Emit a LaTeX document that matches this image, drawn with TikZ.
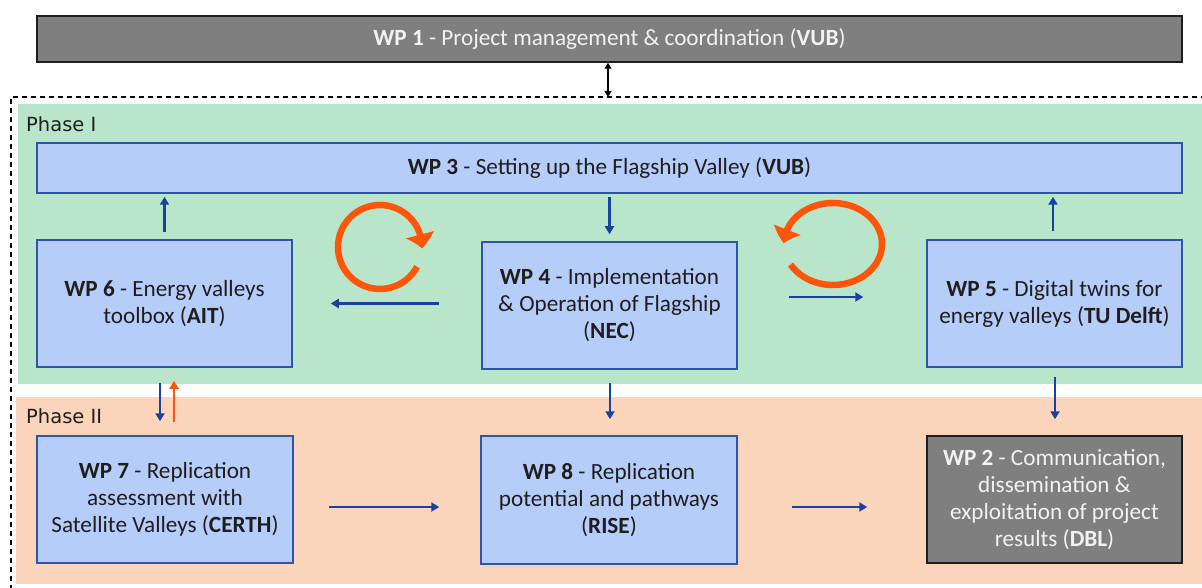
\documentclass[tikz,border=0pt]{standalone}
\usepackage{fontspec}
\setmainfont{Carlito}
\newfontfamily\phasefont{DejaVu Sans}
\usetikzlibrary{arrows.meta,bending}
\definecolor{gbg}{RGB}{185,230,203}
\definecolor{pbg}{RGB}{251,213,187}
\definecolor{boxfill}{RGB}{182,205,250}
\definecolor{boxline}{RGB}{47,85,170}
\definecolor{arrblue}{RGB}{25,65,160}
\definecolor{arrorange}{RGB}{255,85,10}
\definecolor{grayfill}{RGB}{127,127,127}
\definecolor{grayline}{RGB}{30,30,30}
\definecolor{lighttext}{RGB}{242,242,242}
\definecolor{darktext}{RGB}{30,30,30}
\begin{document}
\begin{tikzpicture}[x=1pt,y=-1pt,
  bluebox/.style={draw=boxline,line width=1.5pt,fill=boxfill,align=center,
    text=darktext,inner sep=0pt,font=\fontsize{23.2}{27}\selectfont},
  graybox/.style={draw=grayline,line width=1.5pt,fill=grayfill,align=center,
    text=lighttext,inner sep=0pt,font=\fontsize{23.2}{27}\selectfont},
  wpsize/.style={minimum width=255pt,minimum height=127pt},
  barrow/.style={draw=arrblue,line width=2.2pt,-{Triangle[width=9pt,length=8pt]}},
  oarrow/.style={draw=arrorange,line width=2.2pt,-{Triangle[width=9pt,length=8pt]}},
  looparrow/.style={draw=arrorange,line width=6.5pt,-{Triangle[width=28pt,length=14pt,bend]}},
  phaselabel/.style={anchor=base west,inner sep=0pt,text=darktext,
    font=\phasefont\fontsize{19.5}{22}\selectfont}
]
\useasboundingbox (0,0) rectangle (1202,588);
% backgrounds
\fill[gbg] (18,104) rectangle (1202,384);
\fill[pbg] (16,397) rectangle (1202,584);
% dashed frame
\coordinate (dtop) at (608,97);
\draw[black,line width=1.3pt,dash pattern=on 5pt off 4pt] (1215,97) -- (11,97) -- (11,600);
% phase labels
\node[phaselabel] (ph1) at (26,132) {Phase I};
\node[phaselabel] (ph2) at (26,423) {Phase II};
% boxes
\node[graybox,minimum width=1145pt,minimum height=46pt] (wp1) at (609.5,39)
  {\textbf{WP 1} - Project management \& coordination (\textbf{VUB})};
\node[bluebox,minimum width=1145pt,minimum height=50pt] (wp3) at (609.5,168)
  {\textbf{WP 3} - Setting up the Flagship Valley (\textbf{VUB})};
\node[bluebox,wpsize] (wp6) at (164.5,303.5)
  {\textbf{WP 6} - Energy valleys\\toolbox (\textbf{AIT})};
\node[bluebox,wpsize] (wp4) at (609.5,305.5)
  {\textbf{WP 4} - Implementation\\\& Operation of Flagship\\(\textbf{NEC})};
\node[bluebox,wpsize] (wp5) at (1054.5,303.5)
  {\textbf{WP 5} - Digital twins for\\energy valleys (\textbf{TU Delft})};
\node[bluebox,wpsize,minimum width=256pt] (wp7) at (165,499.5)
  {\textbf{WP 7} - Replication\\assessment with\\Satellite Valleys (\textbf{CERTH})};
\node[bluebox,wpsize,minimum width=256pt,minimum height=128pt] (wp8) at (609,500)
  {\textbf{WP 8} - Replication\\potential and pathways\\(\textbf{RISE})};
\node[graybox,wpsize] (wp2) at (1054.5,499.5)
  {\textbf{WP 2} - Communication,\\dissemination \&\\exploitation of project\\results (\textbf{DBL})};
% WP1 <-> frame
\draw[black,line width=1.6pt,{Triangle[width=7pt,length=6pt]}-{Triangle[width=7pt,length=6pt]}]
  ([xshift=-1.5pt]wp1.south) -- (dtop);
% phase I arrows
\draw[barrow] ([yshift=7pt]wp6.north) -- ([yshift=-3pt]wp6.north |- wp3.south);
\draw[barrow] ([yshift=-3pt]wp3.south -| wp4.north) -- ([yshift=7pt]wp4.north);
\draw[barrow] ([xshift=-1.5pt,yshift=8pt]wp5.north) -- ([xshift=-1.5pt,yshift=-3pt]wp5.north |- wp3.south);
\draw[barrow] ([xshift=-42pt,yshift=2pt]wp4.west) -- ([xshift=38pt,yshift=2pt]wp4.west -| wp6.east);
\draw[barrow] ([xshift=51pt,yshift=8.5pt]wp4.east) -- ([xshift=-63pt,yshift=8.5pt]wp4.east -| wp5.west);
% loops
\draw[looparrow] (380,247) ++(28:42) arc[start angle=28,end angle=362,radius=42];
\draw[looparrow] (833,244) ++(150:49 and 41) arc[start angle=150,end angle=-179,x radius=49,y radius=41];
% phase transitions
\draw[barrow] ([xshift=-4.5pt,yshift=-15pt]wp6.south) -- ([xshift=-4.5pt,yshift=14pt]wp6.south |- wp7.north);
\draw[oarrow] ([xshift=9.5pt,yshift=13pt]wp6.south |- wp7.north) -- ([xshift=9.5pt,yshift=-13pt]wp6.south);
\draw[barrow] ([xshift=0.5pt,yshift=-13pt]wp4.south) -- ([xshift=0.5pt,yshift=16pt]wp4.south |- wp8.north);
\draw[barrow] ([xshift=0.5pt,yshift=-9pt]wp5.south) -- ([xshift=0.5pt,yshift=16pt]wp5.south |- wp2.north);
% phase II arrows
\draw[barrow] ([xshift=35pt,yshift=-7.5pt]wp7.east) -- ([xshift=-41pt,yshift=-7.5pt]wp7.east -| wp8.west);
\draw[barrow] ([xshift=54pt,yshift=-7pt]wp8.east) -- ([xshift=-59pt,yshift=-7pt]wp8.east -| wp2.west);
\end{tikzpicture}
\end{document}
